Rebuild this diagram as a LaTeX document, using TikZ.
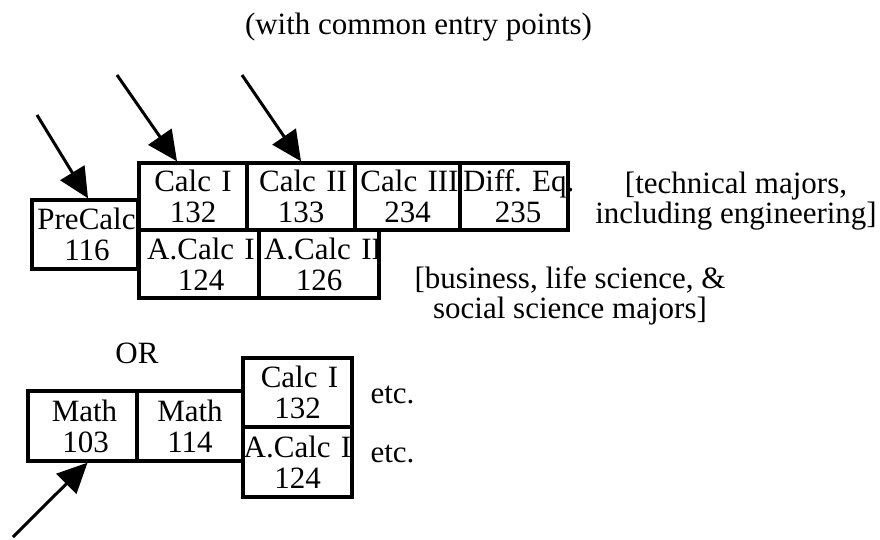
\documentclass[tikz,border=0pt]{standalone}
\usepackage{fontspec}
\setmainfont{Liberation Serif}
\usetikzlibrary{arrows.meta}
\begin{document}
\begin{tikzpicture}[x=1pt,y=-1pt,
  course/.style={draw, line width=3.4pt, inner sep=0pt, align=center, font=\fontsize{31}{31}\selectfont},
  lbl/.style={inner sep=0pt, align=center, font=\fontsize{31}{30}\selectfont},
  entry/.style={line width=3pt, -{Triangle[length=30pt,width=28pt]}}]
\useasboundingbox (0,0) rectangle (880,540);

% upper track
\node[course, text width=106pt, minimum height=69pt] (precalc) at (85,234.5) {\hspace*{3pt}PreCalc\\\hspace*{4pt}116};
\node[course, text width=108pt, minimum height=67pt] (calcI) at (193,196.5) {Calc~I\\132};
\node[course, text width=108pt, minimum height=67pt] (calcII) at (301,196.5) {\hspace*{4pt}Calc~II\\133};
\node[course, text width=105pt, minimum height=67pt] (calcIII) at (407.5,196.5) {\hspace*{4pt}Calc~III\\234};
\node[course, text width=108pt, minimum height=67pt] (diffeq) at (514,196.5) {\hspace*{3pt}Diff.~Eq.\\\hspace*{8pt}235};
\node[course, text width=120pt, minimum height=68pt] (acalcI) at (199,264) {\hspace*{4pt}A.Calc~I\\\hspace*{4pt}124};
\node[course, text width=120pt, minimum height=68pt] (acalcII) at (319,264) {\hspace*{5pt}A.Calc~II\\126};

% lower track
\node[course, text width=109pt, minimum height=70pt] (mathA) at (82.5,426) {\hspace*{4pt}Math\\\hspace*{6pt}103};
\node[course, text width=106pt, minimum height=70pt] (mathB) at (190,426) {Math\\114};
\node[course, text width=109pt, minimum height=69pt] (calcIb) at (297.5,392.5) {\hspace*{4pt}Calc~I\\132};
\node[course, text width=109pt, minimum height=70pt] (acalcIb) at (297.5,462) {A.Calc~I\\124};

% labels
\node[lbl, anchor=base] (title) at (418.5,35) {(with common entry points)};
\node[lbl, anchor=base] (tech) at (736,223) {[technical majors,\\including engineering]};
\node[lbl, anchor=base] (bus) at (570,318) {[business, life science, \&\\social science majors]};
\node[lbl, anchor=base] (or) at (137,363) {OR};
\node[lbl, anchor=base] (etcA) at (392.5,403) {etc.};
\node[lbl, anchor=base] (etcB) at (392.5,462) {etc.};

% entry arrows
\coordinate (e1) at (37,115);
\coordinate (e2) at (117,75);
\coordinate (e3) at (242,75);
\coordinate (e4) at (13,537);
\draw[entry] (e1) -- ([xshift=3pt]precalc.north);
\draw[entry] (e2) -- ([xshift=-16pt]calcI.north);
\draw[entry] (e3) -- (calcII.north);
\draw[entry] (e4) -- ([xshift=5pt]mathA.south);
\end{tikzpicture}
\end{document}
